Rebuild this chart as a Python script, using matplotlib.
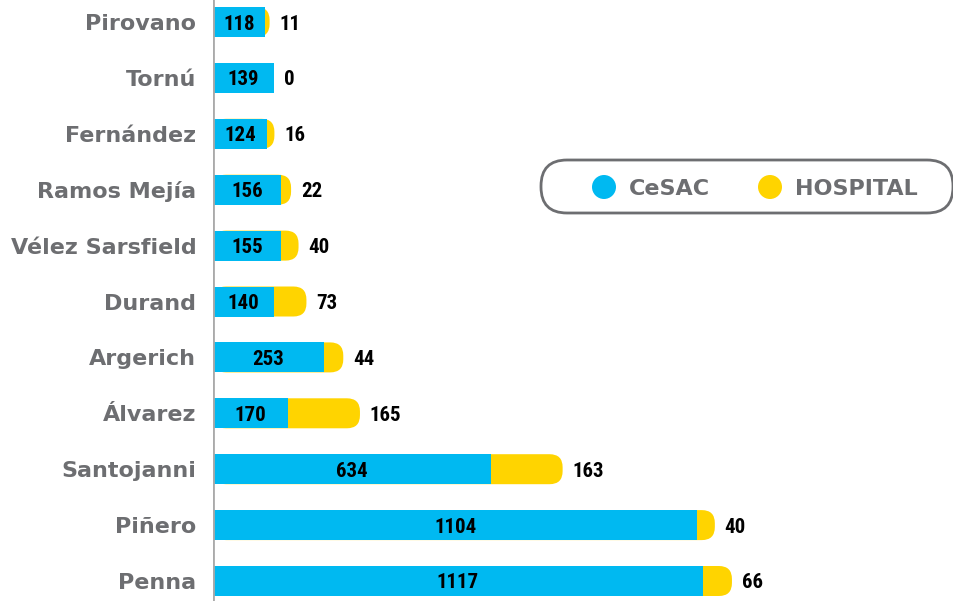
import matplotlib

matplotlib.use("Agg")

import matplotlib.pyplot as plt
import numpy as np
from matplotlib import font_manager
from matplotlib.patches import FancyBboxPatch, Circle


CATEGORIES = ["Pirovano", "Tornú", "Fernández", "Ramos Mejía", "Vélez Sarsfield",
              "Durand", "Argerich", "Álvarez", "Santojanni", "Piñero", "Penna"]
CESAC = [118, 139, 124, 156, 155, 140, 253, 170, 634, 1104, 1117]
HOSPITAL = [11, 0, 16, 22, 40, 73, 44, 165, 163, 40, 66]
SERIES = ["CeSAC", "HOSPITAL"]

BLUE = "#00B9F1"
YELLOW = "#FFD400"
GRAY = "#6D6E71"
AXIS_GRAY = "#AAAAAA"

W, H, DPI = 954, 601, 100
LABEL_FONT = ["DejaVu Sans"]


def pick_font(candidates):
    for name in candidates:
        try:
            font_manager.findfont(font_manager.FontProperties(family=name, weight="bold"),
                                  fallback_to_default=False)
            return name
        except ValueError:
            continue
    return "DejaVu Sans"


def main():
    num_font = pick_font(["Liberation Sans Narrow", "DejaVu Sans Condensed",
                          "Roboto Condensed", "Open Sans Condensed", "Roboto"])
    num_stretch = "condensed" if num_font == "DejaVu Sans Condensed" else "normal"

    fig = plt.figure(figsize=(W / DPI, H / DPI), dpi=DPI)
    fig.patch.set_facecolor("white")

    # axes: x=0 at pixel 213, fills to right edge, full height
    left_px = 213
    ax = fig.add_axes([left_px / W, 0, 1 - left_px / W, 1])
    px_per_unit = 490 / 1117.0
    xmax = (W - left_px) / px_per_unit
    row_px = 55.9
    n = len(CATEGORIES)
    y = np.arange(n)[::-1]  # Pirovano at top
    ax.set_xlim(0, xmax)
    ax.set_ylim(-20 / row_px, (n - 1) + 22 / row_px)

    bar_h = 30 / row_px
    r_px = 13
    rx = r_px / px_per_unit
    ry = r_px / row_px

    cesac = np.array(CESAC)
    hosp = np.array(HOSPITAL)
    total = cesac + hosp

    for yi, c, t in zip(y, cesac, total):
        if t > c:
            ax.add_patch(FancyBboxPatch(
                (0, yi - bar_h / 2), t, bar_h,
                boxstyle=f"round,pad=0,rounding_size={rx}",
                mutation_aspect=ry / rx,
                facecolor=YELLOW, edgecolor="none", zorder=2))
    ax.barh(y, cesac, height=bar_h, color=BLUE, edgecolor="none", zorder=3)

    for yi, c, h, t in zip(y, cesac, hosp, total):
        ax.text(c / 2, yi, f"{c}", ha="center", va="center_baseline",
                fontsize=15, fontweight="bold", family=num_font, fontstretch=num_stretch,
                color="black", zorder=4)
        ax.annotate(f"{h}", (t, yi), xytext=(7, 0), textcoords="offset points",
                    ha="left", va="center_baseline", fontsize=15, fontweight="bold",
                    family=num_font, fontstretch=num_stretch, color="black")

    ax.axvline(0, color=AXIS_GRAY, linewidth=2, zorder=5)
    ax.set_yticks(y)
    ax.set_yticklabels(CATEGORIES, fontsize=16, fontweight="bold", color=GRAY,
                       family=LABEL_FONT)
    ax.tick_params(axis="y", length=0, pad=12)
    ax.set_xticks([])
    for s in ax.spines.values():
        s.set_visible(False)

    # legend drawn in pixel coordinates
    lax = fig.add_axes([0, 0, 1, 1], facecolor="none")
    lax.set_xlim(0, W)
    lax.set_ylim(H, 0)
    lax.axis("off")
    lax.add_patch(FancyBboxPatch((541, 160), 412, 53,
                                 boxstyle="round,pad=0,rounding_size=26",
                                 facecolor="white", edgecolor=GRAY, linewidth=2))
    for cx, color, label in [(604, BLUE, SERIES[0]), (770, YELLOW, SERIES[1])]:
        lax.add_patch(Circle((cx, 187), 12, facecolor=color, edgecolor="none"))
        lax.text(cx + 25, 187, label, ha="left", va="center_baseline", fontsize=16,
                 fontweight="bold", color=GRAY, family=LABEL_FONT)

    fig.savefig("out.png", dpi=DPI, facecolor="white")


if __name__ == "__main__":
    main()
